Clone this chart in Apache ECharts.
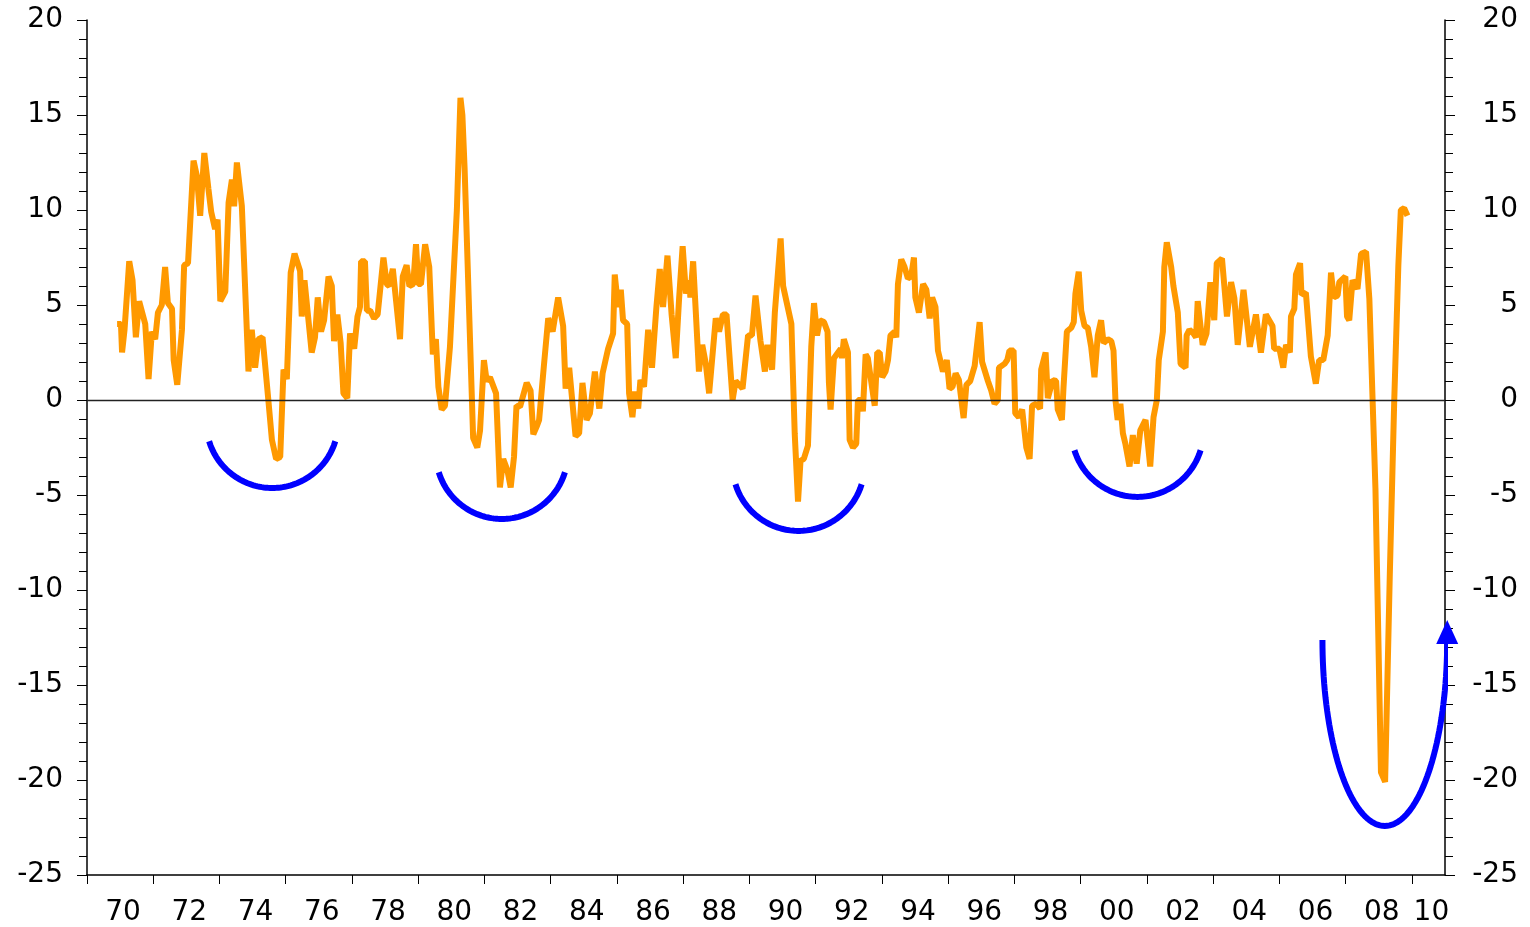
<!DOCTYPE html>
<html>
<head>
<meta charset="utf-8">
<script src="https://cdn.jsdelivr.net/npm/echarts@6/dist/echarts.min.js"></script>
<style>
  html, body { margin: 0; padding: 0; background: #fff; }
  #chart { width: 1530px; height: 927px; }
</style>
</head>
<body>
<div id="chart"></div>
<script>
// x axis labels, one for each 2-year band starting Jan 1970
var yearLabels = ['70', '72', '74', '76', '78', '80', '82', '84', '86', '88',
  '90', '92', '94', '96', '98', '00', '02', '04', '06', '08', '10'];

// months since Jan 1970 and the value
var months = [
  10.9, 12.3, 12.7, 13.6, 15.3, 16.5, 17.7, 18.9, 21.1, 22.3, 23.5, 24.7, 25.7, 27.1, 28.3, 29.3,
  30.8, 31.4, 32.7, 34.4, 35.2, 36.6, 38.6, 39.8, 41.0, 42.5, 44.0, 45.0, 46.4, 47.3, 48.3, 50.1,
  51.3, 52.5, 53.3, 54.3, 56.1, 58.5, 59.7, 60.9, 61.5, 62.1, 63.6, 64.5, 65.7, 67.0, 68.5, 70.0,
  71.2, 72.4, 73.8, 75.2, 77.2, 77.8, 78.8, 81.4, 82.6, 83.6, 84.8, 85.9, 87.5, 88.7, 89.5, 90.7,
  91.9, 92.9, 94.3, 95.3, 96.8, 98.0, 98.9, 99.3, 100.7, 101.4, 102.6, 104.0, 105.3, 107.4, 108.6, 109.5,
  110.8, 113.4, 114.4, 115.8, 116.8, 118.2, 119.2, 120.0, 121.0, 122.5, 124.0, 125.3, 126.4, 127.3, 128.5, 129.7,
  131.5, 134.0, 135.3, 136.0, 136.8, 139.9, 141.4, 142.4, 143.8, 144.8, 146.0, 148.2, 149.6, 150.8, 152.3, 153.5,
  154.7, 155.6, 156.9, 159.3, 160.7, 161.7, 162.9, 163.8, 165.5, 167.1, 168.7, 170.7, 172.5, 173.4, 174.7, 177.0,
  178.3, 179.5, 181.0, 182.2, 184.0, 185.6, 186.8, 188.8, 190.6, 191.2, 192.4, 193.4, 194.2, 195.7, 196.4, 197.6,
  198.5, 199.7, 200.5, 201.8, 203.3, 204.7, 206.3, 207.5, 208.7, 210.3, 211.8, 213.3, 214.5, 215.8, 217.0, 218.1,
  218.6, 219.6, 221.7, 222.9, 224.2, 225.4, 227.8, 229.0, 230.4, 231.7, 233.9, 235.0, 237.5, 239.5, 240.9, 242.2,
  244.0, 245.6, 246.5, 248.2, 249.2, 251.3, 252.2, 255.2, 256.4, 257.6, 258.5, 259.7, 261.2, 262.4, 263.4, 264.5,
  265.5, 267.0, 268.3, 268.8, 269.4, 270.6, 272.1, 273.1, 273.5, 274.2, 275.7, 276.3, 277.5, 278.7, 279.3, 280.6,
  281.1, 282.1, 282.9, 285.4, 286.3, 287.2, 288.1, 289.3, 290.2, 291.1, 292.6, 293.2, 293.8, 295.0, 296.2, 297.4,
  298.6, 299.6, 300.1, 301.4, 302.9, 304.1, 305.3, 306.2, 307.4, 308.3, 310.1, 311.5, 312.5, 313.6, 314.7, 315.9,
  317.6, 318.6, 320.0, 321.6, 323.4, 324.3, 326.4, 327.6, 328.8, 330.0, 330.4, 332.4, 333.4, 334.2, 335.7, 336.3,
  337.6, 338.8, 340.3, 341.5, 342.4, 343.9, 345.3, 345.7, 347.3, 348.1, 349.9, 351.1, 351.7, 353.2, 353.8, 355.0,
  356.6, 357.5, 358.1, 359.3, 360.2, 361.4, 362.6, 363.8, 365.0, 366.2, 367.4, 368.3, 369.8, 371.1, 371.9, 372.6,
  373.4, 374.4, 375.3, 376.2, 377.7, 378.9, 380.3, 381.6, 383.5, 385.2, 386.4, 387.6, 388.3, 389.8, 390.3, 391.2,
  392.8, 393.6, 395.2, 396.2, 398.0, 398.4, 399.4, 400.9, 401.8, 402.4, 404.2, 405.6, 407.0, 408.4, 409.3, 411.2,
  413.0, 414.5, 415.7, 416.9, 419.0, 421.3, 423.5, 425.3, 427.1, 428.3, 429.5, 430.1, 432.0, 433.4, 434.4, 435.8,
  436.2, 437.4, 438.0, 439.5, 440.0, 441.6, 443.4, 445.2, 446.4, 447.9, 449.5, 450.7, 451.7, 453.1, 453.7, 455.9,
  456.5, 457.3, 458.5, 460.3, 461.6, 463.4, 464.6, 466.8, 468.8, 470.3, 472.0, 473.6, 475.1, 476.0, 477.2, 478.4
];
var values = [
  4.0, 4.0, 2.5, 3.7, 7.3, 6.3, 3.3, 5.2, 4.0, 1.1, 3.6, 3.2, 4.6, 5.0, 7.0, 5.1,
  4.8, 2.1, 0.8, 3.7, 7.1, 7.2, 12.6, 11.8, 9.7, 13.0, 11.1, 9.9, 9.0, 9.5, 5.2, 5.7,
  10.4, 11.6, 10.2, 12.5, 10.2, 1.5, 3.7, 1.7, 1.6, 3.2, 3.3, 1.9, 0.0, -2.1, -3.1, -3.0,
  1.6, 1.1, 6.7, 7.7, 6.8, 4.4, 6.3, 2.5, 3.3, 5.4, 3.6, 4.2, 6.5, 6.0, 3.1, 4.5,
  3.0, 0.35, 0.1, 3.5, 2.7, 4.4, 4.9, 7.3, 7.3, 4.7, 4.7, 4.3, 4.5, 7.5, 6.1, 6.0,
  6.9, 3.2, 6.5, 7.1, 6.0, 6.1, 8.2, 6.1, 6.1, 8.2, 7.0, 2.4, 3.2, 0.7, -0.5, -0.3,
  2.8, 10.0, 15.9, 15.0, 12.2, -2.0, -2.5, -1.6, 2.1, 1.0, 1.2, 0.35, -4.6, -3.1, -3.7, -4.6,
  -3.0, -0.3, -0.35, 0.9, 0.5, -1.8, -1.4, -1.05, 1.75, 4.3, 3.6, 5.4, 3.9, 0.6, 1.7, -1.9,
  -1.75, 0.9, -1.05, -0.7, 1.5, -0.45, 1.4, 2.7, 3.5, 6.6, 4.9, 5.8, 4.2, 4.0, 0.35, -0.9,
  0.45, -0.45, 1.05, 0.7, 3.7, 1.7, 4.9, 6.9, 4.9, 7.6, 4.5, 2.2, 5.3, 8.1, 5.6, 6.3,
  5.4, 7.3, 1.5, 2.9, 1.9, 0.35, 4.3, 3.6, 4.5, 4.5, 0.0, 1.0, 0.6, 3.4, 3.4, 5.5,
  3.1, 1.5, 2.9, 1.6, 4.6, 8.5, 6.0, 4.0, -1.75, -5.35, -3.2, -3.1, -2.4, 2.8, 5.1, 3.4,
  4.2, 4.1, 3.6, 0.9, -0.5, 2.2, 2.5, 2.7, 2.2, 3.2, 2.5, -2.1, -2.5, -2.3, 0.0, 0.0,
  -0.6, 2.4, 2.2, -0.3, 2.5, 2.5, 1.2, 1.5, 2.1, 3.4, 3.6, 3.3, 6.1, 7.4, 7.0, 6.4,
  6.5, 7.5, 5.4, 4.6, 6.1, 5.8, 4.3, 5.4, 4.9, 2.6, 1.5, 2.1, 0.6, 0.7, 1.4, 1.05,
  -0.95, 0.8, 1.0, 1.8, 4.1, 2.0, 1.0, 0.5, -0.2, 0.0, 1.7, 1.9, 2.1, 2.6, 2.6, -0.7,
  -0.9, -0.5, -2.5, -3.1, -0.3, -0.2, -0.45, 1.6, 2.5, 0.1, 1.05, 1.0, -0.5, -1.05, 0.7, 3.6,
  3.8, 4.1, 5.6, 6.75, 4.7, 3.9, 3.8, 2.8, 1.2, 3.4, 4.2, 3.0, 3.2, 3.1, 2.6, 0.0,
  -1.05, -0.2, -1.75, -2.3, -3.5, -1.85, -3.35, -1.6, -1.05, -3.5, -0.9, 0.0, 2.1, 3.6, 7.0, 8.3,
  7.0, 6.0, 4.6, 1.9, 1.7, 3.4, 3.7, 3.5, 3.3, 5.2, 2.9, 3.5, 6.2, 4.2, 7.2, 7.45,
  4.4, 6.2, 5.35, 2.9, 5.8, 2.8, 4.5, 2.5, 4.5, 4.2, 3.9, 2.7, 2.7, 1.7, 2.9, 2.5,
  4.4, 4.8, 6.6, 7.2, 5.55, 5.65, 2.3, 0.86, 2.1, 2.1, 3.4, 6.7, 5.4, 5.5, 6.2, 6.5,
  4.4, 4.2, 6.3, 5.85, 7.7, 7.8, 5.3, -4.65, -19.6, -20.1, -9.2, -0.07, 7.1, 10.0, 10.1, 9.7
];

// blue annotation arcs: centre month, centre value, half-width (months), half-height (value), start/end angle below horizontal
var arcs = [
  [67.1, -1.16, 23.9, 3.47, 17, 163],
  [150.3, -2.79, 23.9, 3.47, 17, 163],
  [257.8, -3.42, 23.9, 3.47, 17, 163],
  [380.6, -1.63, 23.9, 3.47, 17, 163],
  [470.2, -12.63, 22.6, 9.79, 0, 180]
];

var lineData = months.map(function (m, i) { return [m, values[i]]; });

function arcPoints(a) {
  var pts = [];
  var n = 80;
  // left end to right end
  for (var k = 0; k <= n; k++) {
    var deg = a[5] - (a[5] - a[4]) * k / n;
    var t = deg * Math.PI / 180;
    pts.push([a[0] + a[2] * Math.cos(t), a[1] - a[3] * Math.sin(t)]);
  }
  return pts;
}

var tickMonths = [];
for (var i = 0; i <= 20; i++) tickMonths.push(i * 24);
var labelMonths = yearLabels.map(function (l, i) { return i < 20 ? 12 + 24 * i : 486; });

var font = 'DejaVu Sans';
function yAxis(pos, margin) {
  return {
    type: 'value',
    position: pos,
    min: -25,
    max: 20,
    interval: 5,
    axisLine: { show: true, lineStyle: { color: '#000', width: 1.5 } },
    axisTick: { show: true, length: 10, lineStyle: { color: '#000', width: 1 } },
    minorTick: { show: true, splitNumber: 5, length: 8, lineStyle: { color: '#000', width: 1 } },
    splitLine: { show: false },
    // labels on both sides line up on their right edge
    axisLabel: { color: '#000', fontSize: 28, fontFamily: font, margin: margin, align: 'right' }
  };
}

var series = [
  {
    type: 'line',
    data: [],
    z: 1,
    silent: true,
    markLine: {
      symbol: 'none',
      silent: true,
      label: { show: false },
      lineStyle: { color: '#222', width: 1.3, type: 'solid' },
      data: [{ yAxis: 0 }]
    }
  },
  {
    type: 'line',
    data: lineData,
    showSymbol: false,
    z: 3,
    lineStyle: { color: '#FF9900', width: 6 },
    itemStyle: { color: '#FF9900' }
  }
];

arcs.forEach(function (a) {
  series.push({
    type: 'line',
    data: arcPoints(a),
    showSymbol: false,
    clip: false,
    z: 4,
    lineStyle: { color: '#0000FF', width: 6 },
    itemStyle: { color: '#0000FF' }
  });
});

// arrow head on the last arc
var last = arcs[arcs.length - 1];
series.push({
  type: 'scatter',
  data: [[last[0] + last[2], last[1]]],
  symbol: 'triangle',
  symbolSize: [22, 24],
  symbolOffset: [0, -8],
  clip: false,
  z: 5,
  itemStyle: { color: '#0000FF', opacity: 1 }
});

var chart = echarts.init(document.getElementById('chart'));
var option = {
  animation: false,
  backgroundColor: '#fff',
  grid: { left: 87, right: 85, top: 20, bottom: 52 },
  xAxis: {
    type: 'value',
    min: 0,
    max: 492,
    axisLine: { show: true, onZero: false, lineStyle: { color: '#000', width: 1.5 } },
    axisTick: { show: true, length: 9, customValues: tickMonths, lineStyle: { color: '#000', width: 1 } },
    splitLine: { show: false },
    axisLabel: {
      color: '#000',
      fontSize: 28,
      fontFamily: font,
      margin: 24,
      padding: [0, 0, 0, 6],
      customValues: labelMonths,
      formatter: function (v) {
        var idx = labelMonths.indexOf(v);
        return idx >= 0 ? yearLabels[idx] : '';
      }
    }
  },
  yAxis: [yAxis('left', 24), yAxis('right', 73)],
  series: series
};
chart.setOption(option);
</script>
</body>
</html>
